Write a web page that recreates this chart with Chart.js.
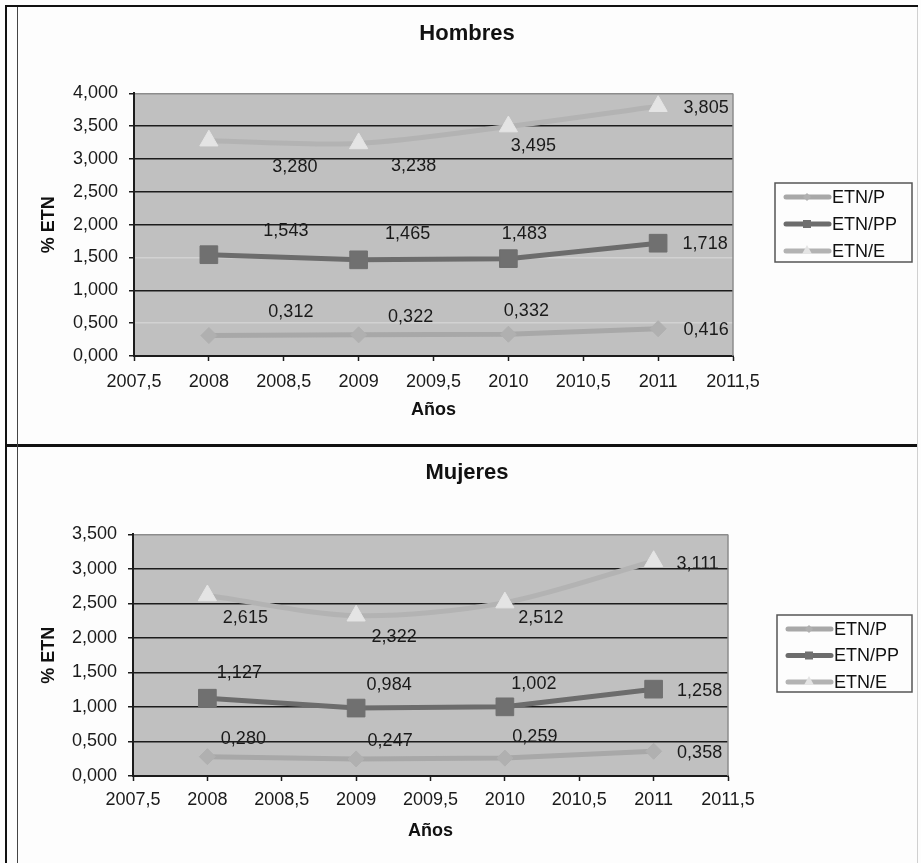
<!DOCTYPE html>
<html>
<head>
<meta charset="utf-8">
<script src="https://cdn.jsdelivr.net/npm/chart.js@4.4.1/dist/chart.umd.min.js"></script>
<style>
  body { margin: 0; background: #fdfdfd; width: 921px; height: 863px; overflow: hidden; position: relative; }
  .box { position: absolute; left: 17px; width: 900px; }
  #box1 { top: 7px; height: 438px; }
  #box2 { top: 447px; height: 416px; }
  .rule { position: absolute; background: #111; z-index: 2; }
</style>
</head>
<body>
<div class="box" id="box1"><canvas id="hombres"></canvas></div>
<div class="box" id="box2"><canvas id="mujeres"></canvas></div>
<div class="rule" style="left:5px;top:5px;width:2px;height:858px"></div>
<div class="rule" style="left:5px;top:5px;width:913px;height:2px"></div>
<div class="rule" style="left:5px;top:444px;width:913px;height:3px"></div>
<div class="rule" style="left:17px;top:7px;width:1px;height:856px;background:#444"></div>
<div class="rule" style="left:917px;top:7px;width:1px;height:856px;background:#d0d0d0"></div>
<script>
// chart values
const years = [2008, 2009, 2010, 2011];
const seriesNames = ['ETN/P', 'ETN/PP', 'ETN/E'];
const hombresP = [0.312, 0.322, 0.332, 0.416];
const hombresPP = [1.543, 1.465, 1.483, 1.718];
const hombresE = [3.280, 3.238, 3.495, 3.805];
const mujeresP = [0.280, 0.247, 0.259, 0.358];
const mujeresPP = [1.127, 0.984, 1.002, 1.258];
const mujeresE = [2.615, 2.322, 2.512, 3.111];
const xMin = 2007.5;
const xMax = 2011.5;
const xStep = 0.5;
const hombresYMax = 4;
const mujeresYMax = 3.5;
const yStep = 0.5;

// label placement (pixels from the point), per series then per year
const hombresLabelOffsets = [
  [[82, -23], [52, -18], [18, -23], [48, 1]],
  [[77, -24], [49, -26], [16, -25], [47, 1]],
  [[86, 26], [55, 23], [25, 19], [48, 2]],
];
const mujeresLabelOffsets = [
  [[36, -18], [34, -18], [30, -21], [46, 2]],
  [[32, -25], [33, -23], [29, -23], [46, 2]],
  [[38, 23], [38, 21], [36, 15], [44, 3]],
];

const FONT = '"Liberation Sans", Arial, sans-serif';
Chart.defaults.font.family = FONT;
Chart.defaults.color = '#1a1a1a';

const comma = (v, digits) => v.toFixed(digits).replace('.', ',');
const pairs = (xs, ys) => xs.map((x, i) => ({ x, y: ys[i] }));

const seriesStyles = [
  { borderColor: '#a8a8a8', pointStyle: 'rectRot', pointRadius: 8, pointBackgroundColor: '#b0b0b0', tension: 0 },
  { borderColor: '#6c6c6c', pointStyle: 'rect', pointRadius: 12.5, pointBackgroundColor: '#707070', tension: 0 },
  { borderColor: '#b3b3b3', pointStyle: 'triangle', pointRadius: 10.5, pointBackgroundColor: '#e4e4e4', tension: 0.3 },
];

const plotBackground = {
  id: 'plotBackground',
  beforeDraw(chart) {
    const { ctx, chartArea: a } = chart;
    ctx.save();
    ctx.fillStyle = '#c0c0c0';
    ctx.fillRect(a.left, a.top, a.right - a.left, a.bottom - a.top);
    ctx.restore();
  },
  beforeDatasetsDraw(chart) {
    const { ctx, chartArea: a } = chart;
    ctx.save();
    ctx.strokeStyle = '#8c8c8c';
    ctx.lineWidth = 1.5;
    ctx.beginPath();
    ctx.moveTo(a.right, a.top);
    ctx.lineTo(a.right, a.bottom);
    ctx.stroke();
    ctx.restore();
  },
};

const valueLabels = {
  id: 'valueLabels',
  afterDatasetsDraw(chart, args, opts) {
    const { ctx } = chart;
    ctx.save();
    ctx.font = '18px ' + FONT;
    ctx.fillStyle = '#1a1a1a';
    ctx.textAlign = 'center';
    ctx.textBaseline = 'middle';
    chart.data.datasets.forEach((ds, i) => {
      chart.getDatasetMeta(i).data.forEach((pt, j) => {
        const [dx, dy] = opts.offsets[i][j];
        ctx.fillText(comma(ds.data[j].y, 3), pt.x + dx, pt.y + dy);
      });
    });
    ctx.restore();
  },
};

function legendMarker(ctx, style, x, y) {
  ctx.beginPath();
  if (style === 'rectRot') {
    ctx.moveTo(x - 4, y); ctx.lineTo(x, y - 4); ctx.lineTo(x + 4, y); ctx.lineTo(x, y + 4);
  } else if (style === 'rect') {
    ctx.rect(x - 4, y - 4, 8, 8);
  } else {
    ctx.moveTo(x, y - 6); ctx.lineTo(x + 5, y + 3); ctx.lineTo(x - 5, y + 3);
  }
  ctx.closePath();
  ctx.fill();
}

const boxLegend = {
  id: 'boxLegend',
  afterDraw(chart, args, opts) {
    const { ctx } = chart;
    const [bx, by, bw, bh] = opts.box;
    ctx.save();
    ctx.strokeStyle = '#555';
    ctx.lineWidth = 1.5;
    ctx.strokeRect(bx, by, bw, bh);
    ctx.font = '18px ' + FONT;
    ctx.textBaseline = 'middle';
    ctx.textAlign = 'left';
    chart.data.datasets.forEach((ds, i) => {
      const y = opts.firstY + i * opts.step;
      ctx.strokeStyle = ds.borderColor;
      ctx.lineWidth = 5;
      ctx.lineCap = 'round';
      ctx.beginPath();
      ctx.moveTo(bx + 11, y);
      ctx.lineTo(bx + 54, y);
      ctx.stroke();
      ctx.fillStyle = ds.pointBackgroundColor;
      legendMarker(ctx, ds.pointStyle, bx + 32, y);
      ctx.fillStyle = '#111';
      ctx.fillText(ds.label, bx + 57, y + 1);
    });
    ctx.restore();
  },
};

function makeChart(canvasId, cfg) {
  const datasets = cfg.values.map((vals, i) => Object.assign({
    label: seriesNames[i],
    data: pairs(years, vals),
    borderWidth: 5,
    pointBorderWidth: 1,
    pointBorderColor: seriesStyles[i].pointBackgroundColor,
  }, seriesStyles[i]));

  new Chart(document.getElementById(canvasId), {
    type: 'line',
    data: { datasets },
    options: {
      responsive: true,
      maintainAspectRatio: false,
      animation: false,
      events: [],
      layout: { padding: 0 },
      scales: {
        x: {
          type: 'linear',
          min: xMin,
          max: xMax,
          afterFit: (scale) => { scale.height = cfg.xAxisHeight; scale.paddingRight = cfg.rightSpace; },
          ticks: { stepSize: xStep, padding: cfg.xTickPadding, font: { size: 18 }, color: '#1a1a1a', maxRotation: 0,
            callback: (v) => comma(v, v % 1 === 0 ? 0 : 1) },
          grid: { drawOnChartArea: false, drawTicks: true, tickLength: 5, tickColor: '#1c1c1c', tickWidth: 1.5 },
          border: { display: true, color: '#1c1c1c', width: 2 },
          title: { display: true, text: 'Años', font: { size: 18, weight: 'bold' }, color: '#111', padding: { top: 0, bottom: cfg.xTitlePad } },
        },
        y: {
          min: 0,
          max: cfg.yMax,
          afterFit: (scale) => { scale.width = cfg.yAxisWidth; },
          ticks: { stepSize: yStep, padding: 11, font: { size: 18 }, color: '#1a1a1a', callback: (v) => comma(v, 3) },
          grid: {
            tickLength: 5,
            tickColor: '#1c1c1c',
            lineWidth: 1.5,
            color: (c) => {
              const v = c.tick ? c.tick.value : null;
              if (v === cfg.yMax) return '#8c8c8c';
              if (cfg.lightGrid.includes(v)) return '#d2d2d2';
              return '#1c1c1c';
            },
          },
          border: { display: true, color: '#1c1c1c', width: 2 },
          title: { display: true, text: '% ETN', font: { size: 18, weight: 'bold' }, color: '#111', padding: { top: 21, bottom: 0 } },
        },
      },
      plugins: {
        legend: { display: false },
        tooltip: { enabled: false },
        title: { display: true, text: cfg.title, font: { size: 22, weight: 'bold' }, color: '#111', padding: cfg.titlePad },
        valueLabels: { offsets: cfg.offsets },
        boxLegend: cfg.legend,
      },
    },
    plugins: [plotBackground, valueLabels, boxLegend],
  });
}

makeChart('hombres', {
  title: 'Hombres',
  values: [hombresP, hombresPP, hombresE],
  yMax: hombresYMax,
  lightGrid: [0.5, 1.5],
  offsets: hombresLabelOffsets,
  xAxisHeight: 89,
  yAxisWidth: 117,
  rightSpace: 184,
  xTickPadding: 10,
  xTitlePad: 24,
  titlePad: { top: 14, bottom: 46 },
  legend: { box: [758, 176, 137, 79], firstY: 190, step: 27 },
});

makeChart('mujeres', {
  title: 'Mujeres',
  values: [mujeresP, mujeresPP, mujeresE],
  yMax: mujeresYMax,
  lightGrid: [],
  offsets: mujeresLabelOffsets,
  xAxisHeight: 87,
  yAxisWidth: 116,
  rightSpace: 189,
  xTickPadding: 8,
  xTitlePad: 21,
  titlePad: { top: 13, bottom: 48 },
  legend: { box: [760, 168, 135, 77], firstY: 182, step: 26.5 },
});
</script>
</body>
</html>
